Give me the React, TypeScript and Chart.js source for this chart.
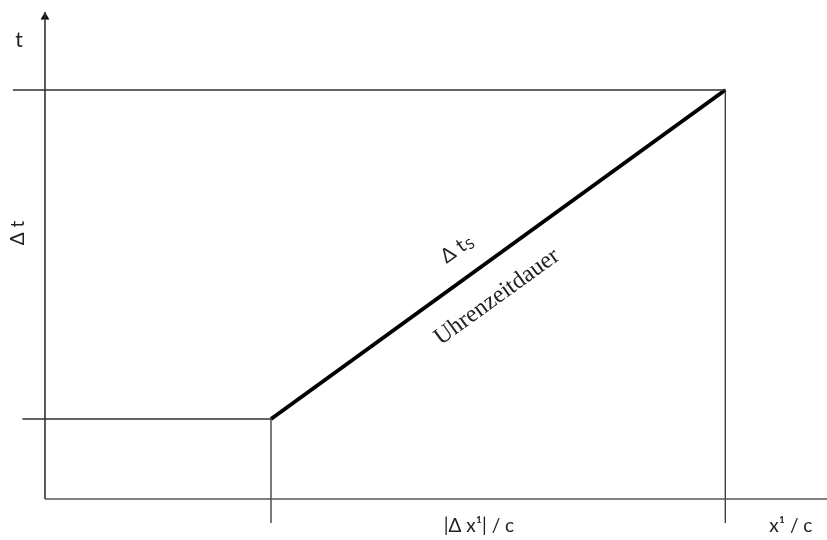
import React, { useEffect, useRef } from "react";
import { Chart, registerables } from "chart.js";

Chart.register(...registerables);

// Data (units: x in x¹/c, y in t)
const xMin = -0.199;
const xMax = 3.46;
const yMin = -0.41;
const yMax = 4.99;

const xAxisEnd = 3.46;
const yAxisTop = 4.87;
const arrowY = 4.82;

const deltaX = 1.0; // |Δx¹|/c
const xEnd = 3.01;
const t0 = 0.8;
const t1 = 4.09;

const guideLeftTop = -0.142;
const guideLeftLow = -0.1;
const guideBottom = -0.24;

const worldLine = [
  { x: deltaX, y: t0 },
  { x: xEnd, y: t1 },
];
const topGuide = [
  { x: guideLeftTop, y: t1 },
  { x: xEnd, y: t1 },
  { x: xEnd, y: guideBottom },
];
const lowGuide = [
  { x: guideLeftLow, y: t0 },
  { x: deltaX, y: t0 },
  { x: deltaX, y: guideBottom },
];
const xAxisLine = [
  { x: 0, y: 0 },
  { x: xAxisEnd, y: 0 },
];
const yAxisLine = [
  { x: 0, y: 0 },
  { x: 0, y: yAxisTop },
];
const arrowHead = [{ x: 0, y: arrowY }];

type Lbl = {
  text: string;
  sub?: string;
  x: number;
  y: number;
  rot: "none" | "vertical" | "line";
  font: string;
  size: number;
};

const SANS = "Lato, 'Open Sans', sans-serif";
const SERIF = "'Liberation Serif', 'DejaVu Serif', serif";

const labels: Lbl[] = [
  { text: "t", x: -0.115, y: 4.59, rot: "none", font: SANS, size: 21 },
  { text: "Δ t", x: -0.12, y: 2.66, rot: "vertical", font: SANS, size: 19 },
  { text: "Δ t", sub: "S", x: 1.82, y: 2.5, rot: "line", font: SANS, size: 20 },
  { text: "Uhrenzeitdauer", x: 2.0, y: 2.02, rot: "line", font: SERIF, size: 24 },
  { text: "|Δ x¹| / c", x: 1.92, y: -0.27, rot: "none", font: SANS, size: 19 },
  { text: "x¹ / c", x: 3.3, y: -0.27, rot: "none", font: SANS, size: 19 },
];

const labelPlugin = {
  id: "labelPlugin",
  afterDatasetsDraw(chart: any) {
    const { ctx, scales } = chart;
    const sx = scales.x;
    const sy = scales.y;
    const p0x = sx.getPixelForValue(worldLine[0].x);
    const p0y = sy.getPixelForValue(worldLine[0].y);
    const p1x = sx.getPixelForValue(worldLine[1].x);
    const p1y = sy.getPixelForValue(worldLine[1].y);
    const lineAngle = Math.atan2(p1y - p0y, p1x - p0x);
    labels.forEach((l) => {
      const px = sx.getPixelForValue(l.x);
      const py = sy.getPixelForValue(l.y);
      ctx.save();
      ctx.translate(px, py);
      if (l.rot === "vertical") ctx.rotate(-Math.PI / 2);
      if (l.rot === "line") ctx.rotate(lineAngle);
      ctx.fillStyle = "#222";
      ctx.textBaseline = "middle";
      ctx.font = `${l.size}px ${l.font}`;
      const mainW = ctx.measureText(l.text).width;
      let subW = 0;
      if (l.sub) {
        ctx.font = `${Math.round(l.size * 0.72)}px ${l.font}`;
        subW = ctx.measureText(l.sub).width;
      }
      const total = mainW + subW;
      ctx.textAlign = "left";
      ctx.font = `${l.size}px ${l.font}`;
      ctx.fillText(l.text, -total / 2, 0);
      if (l.sub) {
        ctx.font = `${Math.round(l.size * 0.72)}px ${l.font}`;
        ctx.fillText(l.sub, -total / 2 + mainW + 1, l.size * 0.22);
      }
      ctx.restore();
    });
  },
};

export default function App() {
  const ref = useRef<HTMLCanvasElement | null>(null);
  useEffect(() => {
    document.body.style.margin = "0";
    const thin = { showLine: true, pointRadius: 0, borderColor: "#333", borderWidth: 1.3, fill: false, clip: false };
    const chart = new Chart(ref.current as HTMLCanvasElement, {
      type: "scatter",
      data: {
        datasets: [
          { data: xAxisLine, ...thin, borderColor: "#555", borderWidth: 1.6 },
          { data: yAxisLine, ...thin, borderColor: "#333", borderWidth: 1.6 },
          { data: topGuide, ...thin },
          { data: lowGuide, ...thin },
          { data: worldLine, showLine: true, pointRadius: 0, borderColor: "#000", borderWidth: 4, borderCapStyle: "butt", clip: false },
          {
            data: arrowHead,
            showLine: false,
            pointStyle: "triangle",
            pointRadius: 4.6,
            backgroundColor: "#000",
            borderColor: "#000",
            borderWidth: 0.5,
            clip: false,
          },
        ] as any,
      },
      options: {
        responsive: false,
        maintainAspectRatio: false,
        animation: false,
        layout: { padding: 0, autoPadding: false },
        scales: {
          x: { type: "linear", min: xMin, max: xMax, display: false },
          y: { type: "linear", min: yMin, max: yMax, display: false },
        },
        plugins: { legend: { display: false }, tooltip: { enabled: false } },
        events: [],
      },
      plugins: [labelPlugin],
    });
    return () => chart.destroy();
  }, []);
  return (
    <div style={{ width: 827, height: 540, background: "#fff" }}>
      <canvas ref={ref} width={827} height={540} style={{ display: "block" }} />
    </div>
  );
}
